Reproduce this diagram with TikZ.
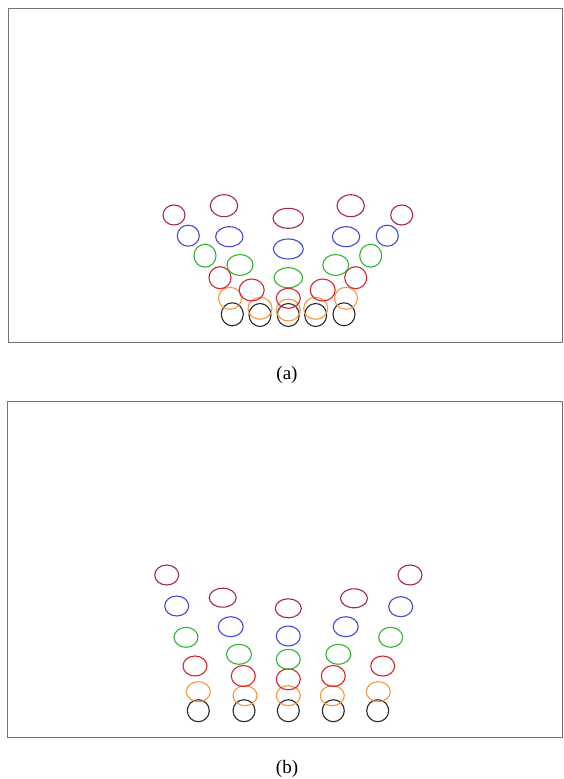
\documentclass[tikz,border=0pt]{standalone}
\usepackage{fontspec}
\setmainfont{Liberation Serif}
\usepackage{tikz}

\definecolor{ringblack}{RGB}{40,40,40}
\definecolor{ringorange}{RGB}{245,150,60}
\definecolor{ringred}{RGB}{215,35,45}
\definecolor{ringgreen}{RGB}{50,180,50}
\definecolor{ringblue}{RGB}{70,70,220}
\definecolor{ringmaroon}{RGB}{165,40,75}

\begin{document}
\begin{tikzpicture}[x=1pt,y=-1pt,
    frame/.style={draw=black!55,line width=0.9pt},
    ring/.style={line width=1.1pt},
    caption/.style={anchor=base,font=\fontsize{19}{22}\selectfont}]
  \useasboundingbox (0,0) rectangle (563,779);

  % panel (a)
  \coordinate (A1) at (8,8);
  \coordinate (A2) at (562.5,342);
  \draw[frame] (A1) rectangle (A2);
  \foreach \c/\x/\y/\rx/\ry in {
      ringblack/232.3/314.3/11/11.5, ringblack/260/315/11/11.5, ringblack/288.3/315/11/11.5,
      ringblack/315.7/315/11/11.5, ringblack/344/314.3/11/11.5,
      ringorange/230/298.3/11.5/11, ringorange/260/308.3/12/11, ringorange/288.3/310/12/11,
      ringorange/315.7/308.3/12/11, ringorange/346/298.3/11.5/11,
      ringred/220/277.7/11/11, ringred/251.7/290/12.5/11, ringred/288.3/298.3/12/10,
      ringred/322.7/290/12.5/11, ringred/355.7/277.7/11/11,
      ringgreen/205/255.7/11/11.5, ringgreen/240/265/13/10.5, ringgreen/288.3/277.7/14.3/10,
      ringgreen/335.7/265/13/10.5, ringgreen/370.7/255.7/11/11.5,
      ringblue/188.3/235.7/11/10.5, ringblue/229.3/236.7/13.7/10, ringblue/288.3/249/15/10,
      ringblue/346/236.7/13.7/10, ringblue/387.3/235.7/11/10.5,
      ringmaroon/174/215/11/10, ringmaroon/224/205.7/13.7/11, ringmaroon/288.3/218.3/15.3/10,
      ringmaroon/350.7/205.7/13.7/11, ringmaroon/401.7/215/11/10}
    \draw[ring,\c] (\x,\y) ellipse [x radius=\rx, y radius=\ry];
  \node[caption] (capa) at (287,379) {(a)};

  % panel (b)
  \coordinate (B1) at (7.5,401.5);
  \coordinate (B2) at (562.5,737.5);
  \draw[frame] (B1) rectangle (B2);
  \foreach \c/\x/\y/\rx/\ry in {
      ringblack/198.3/710.7/11/11, ringblack/244/710.7/11/11, ringblack/288.3/710.7/11/11,
      ringblack/333.3/710.7/11/11, ringblack/377.7/710.7/11/11,
      ringorange/198.3/691.7/12/10, ringorange/245/695.7/12/10, ringorange/288.3/695.7/12/10,
      ringorange/332.3/695.7/12/10, ringorange/378.3/691.7/12/10,
      ringred/195/666/12/10, ringred/243.3/676/12/10.5, ringred/288.3/679.3/12/10.5,
      ringred/333.3/676/12/10.5, ringred/382.7/666/12/10,
      ringgreen/186/637.3/12/10, ringgreen/239/654.3/12.5/10, ringgreen/288.3/659.3/12/10,
      ringgreen/338.3/654.3/12.5/10, ringgreen/390.7/637.3/12/10,
      ringblue/176.7/606/12/10, ringblue/230.7/626.7/12.5/10, ringblue/288.3/636/12/10,
      ringblue/345.7/626.7/12.5/10, ringblue/400.7/606.7/12/10,
      ringmaroon/166.7/575/12/10, ringmaroon/222.7/597.7/13.5/9.5, ringmaroon/288.3/608.3/13/9.5,
      ringmaroon/354/598.3/13.5/9.5, ringmaroon/410/575/12/10}
    \draw[ring,\c] (\x,\y) ellipse [x radius=\rx, y radius=\ry];
  \node[caption] (capb) at (287,773) {(b)};
\end{tikzpicture}
\end{document}
